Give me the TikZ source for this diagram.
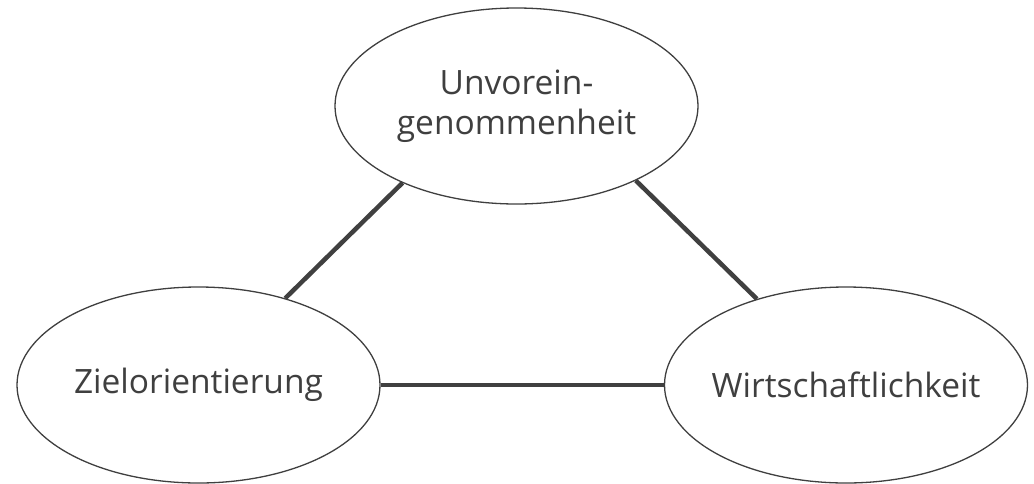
\documentclass[tikz,border=0pt]{standalone}
\usepackage{fontspec}
\setmainfont{Open Sans}
\usetikzlibrary{shapes.geometric}
\definecolor{inkgray}{HTML}{3F3F3F}
\definecolor{linegray}{HTML}{404040}
\tikzset{
  bubble/.style={ellipse, draw=inkgray, line width=1.3pt, fill=white, inner sep=0pt,
    minimum width=363pt, minimum height=196pt, text=inkgray,
    font=\fontsize{33.5}{40}\selectfont},
  link/.style={draw=linegray, line width=4.5pt}
}
\begin{document}
\begin{tikzpicture}[x=1pt,y=-1pt]
\useasboundingbox (0,0) rectangle (1034,483);
\node[bubble] (top) at (516.5,106) {\makebox[0pt]{\begin{tabular}{@{}c@{}}Unvorein-\\genommenheit\end{tabular}}};
\node[bubble] (left) at (198.5,385) {\makebox[0pt]{Zielorientierung}};
\node[bubble] (right) at (846,385) {\makebox[0pt]{Wirtschaftlichkeit}};
\draw[link] (top.214) -- (left.45);
\draw[link] (top.328) -- (right.136);
\draw[link] (left.east) -- (right.west);
\end{tikzpicture}
\end{document}
